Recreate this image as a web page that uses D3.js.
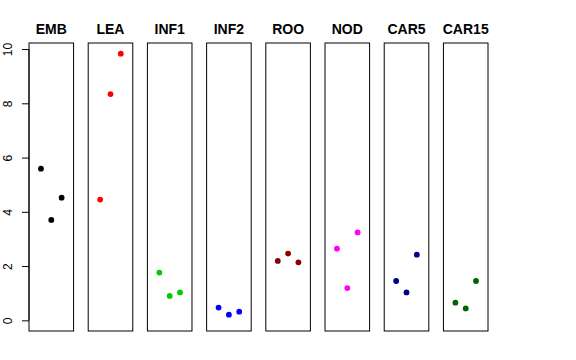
<!DOCTYPE html>
<html><head><meta charset="utf-8">
<script src="https://cdn.jsdelivr.net/npm/d3@7"></script>
<style>body{margin:0;background:#fff}svg{display:block}</style>
</head><body>
<script>
const categories = ["EMB","LEA","INF1","INF2","ROO","NOD","CAR5","CAR15"];
const colors = ["#000000","#FF0000","#00CD00","#0000FF","#8B0000","#FF00FF","#00008B","#006400"];
const EMB   = [5.59, 3.70, 4.52];
const LEA   = [4.45, 8.34, 9.83];
const INF1  = [1.76, 0.90, 1.03];
const INF2  = [0.47, 0.21, 0.32];
const ROO   = [2.19, 2.46, 2.14];
const NOD   = [2.64, 1.19, 3.24];
const CAR5  = [1.45, 1.03, 2.42];
const CAR15 = [0.65, 0.44, 1.45];
const series = [EMB, LEA, INF1, INF2, ROO, NOD, CAR5, CAR15];
const yTicks = [0, 2, 4, 6, 8, 10];

const W = 576, H = 360;
const svg = d3.select("body").append("svg").attr("width", W).attr("height", H);

const yMax = d3.max(series.flat());
const ext = 0.04 * yMax;
const y = d3.scaleLinear().domain([-ext, yMax + ext]).range([331, 43]);
const panel = d3.scaleBand().domain(categories).range([29, 488]).paddingInner(0.247).paddingOuter(0);
const bw = panel.bandwidth();
const x = d3.scaleLinear().domain([-0.16, 4.16]).range([0, bw]);

categories.forEach((c, i) => {
  const g = svg.append("g").attr("transform", `translate(${panel(c)},0)`);
  g.append("rect").attr("x", 0).attr("y", 43).attr("width", bw).attr("height", 288)
    .attr("fill", "none").attr("stroke", "#000").attr("stroke-width", 1);
  g.append("text").attr("x", bw / 2).attr("y", 34).attr("text-anchor", "middle")
    .attr("font-family", "Liberation Sans, Arial, sans-serif").attr("font-weight", "bold")
    .attr("font-size", 14).text(c);
  g.selectAll("circle").data(series[i]).enter().append("circle")
    .attr("cx", (d, j) => x(j + 1)).attr("cy", d => y(d)).attr("r", 2.9)
    .attr("fill", colors[i]);
});

const axis = d3.axisLeft(y).tickValues(yTicks).tickSize(7).tickPadding(4).tickFormat(d3.format("d"));
const ag = svg.append("g").attr("transform", `translate(${panel(categories[0])},0)`).call(axis);
ag.select(".domain").remove();
ag.append("line").attr("x1", 0).attr("x2", 0).attr("y1", y(0)).attr("y2", y(10)).attr("stroke", "#000");
ag.selectAll(".tick line").attr("stroke", "#000");
ag.selectAll(".tick text")
  .attr("font-family", "Liberation Sans, Arial, sans-serif").attr("font-size", 12).attr("fill", "#000")
  .attr("transform", "rotate(-90)")
  .attr("x", 0).attr("y", -17).attr("dy", "0").attr("text-anchor", "middle");
</script>
</body></html>
